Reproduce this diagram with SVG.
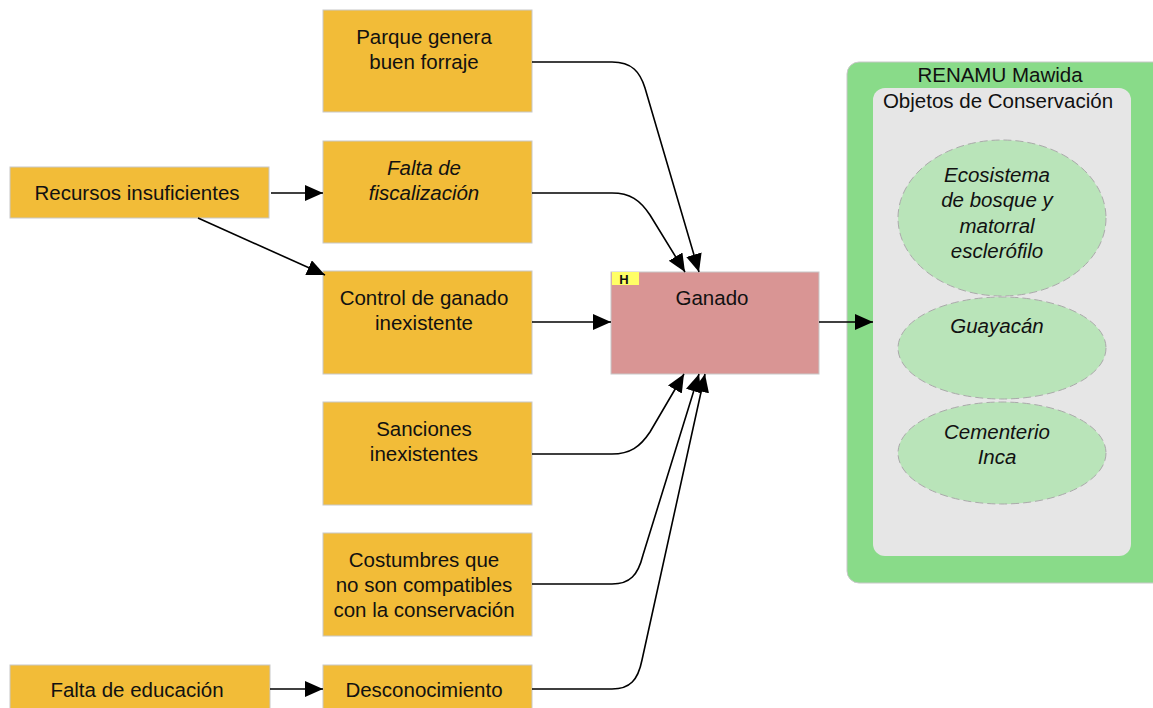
<svg xmlns="http://www.w3.org/2000/svg" width="1153" height="708" viewBox="0 0 1153 708">
  <style>
    text { font-family: "Liberation Sans", Arial, sans-serif; font-size: 20.5px; fill: #111; text-anchor: middle; }
    .it { font-style: italic; }
    .factor { fill: #F2BC38; stroke: #C8C8C8; stroke-width: 1; }
    .target { fill: #D99594; stroke: #C8C8C8; stroke-width: 1; }
    .obj { fill: #B9E4B9; stroke: #AAAAAA; stroke-width: 1; stroke-dasharray: 8 4; }
    .link { fill: none; stroke: #000; stroke-width: 1.6; marker-end: url(#arrow); }
  </style>
  <defs>
    <marker id="arrow" markerUnits="userSpaceOnUse" markerWidth="20" markerHeight="18" refX="18" refY="8" orient="auto">
      <path d="M0,0 L18,8 L0,16 z" fill="#000"/>
    </marker>
  </defs>
  <rect width="1153" height="708" fill="#fff"/>

  <!-- scope container -->
  <g id="scope">
    <rect x="847" y="62" width="320" height="521" rx="12" fill="#89DB89" stroke="#C8C8C8"/>
    <text x="1000" y="82">RENAMU Mawida</text>
    <rect x="873" y="88" width="258" height="468" rx="12" fill="#E6E6E6"/>
    <text x="998" y="108">Objetos de Conservación</text>
  </g>

  <g id="obj-ecosistema">
    <ellipse class="obj" cx="1002" cy="218" rx="104" ry="78"/>
    <text class="it" x="997" y="182">Ecosistema</text>
    <text class="it" x="997" y="207">de bosque y</text>
    <text class="it" x="997" y="233">matorral</text>
    <text class="it" x="997" y="258">esclerófilo</text>
  </g>
  <g id="obj-guayacan">
    <ellipse class="obj" cx="1002" cy="348" rx="104" ry="51"/>
    <text class="it" x="997" y="333">Guayacán</text>
  </g>
  <g id="obj-cementerio">
    <ellipse class="obj" cx="1002" cy="453" rx="104" ry="51"/>
    <text class="it" x="997" y="439">Cementerio</text>
    <text class="it" x="997" y="464">Inca</text>
  </g>

  <!-- direct threat -->
  <g id="ganado">
    <rect class="target" x="611" y="272" width="208" height="102"/>
    <rect x="612" y="272" width="27" height="13" fill="#FFFF66"/>
    <text x="624" y="284" style="font-size:13px;font-weight:bold">H</text>
    <text x="712" y="305">Ganado</text>
  </g>

  <!-- contributing factors -->
  <g id="recursos">
    <rect class="factor" x="10" y="167" width="259" height="51"/>
    <text x="137" y="200">Recursos insuficientes</text>
  </g>
  <g id="educacion">
    <rect class="factor" x="10" y="665" width="260" height="50"/>
    <text x="137" y="697">Falta de educación</text>
  </g>
  <g id="parque">
    <rect class="factor" x="323" y="10" width="209" height="102"/>
    <text x="424" y="44">Parque genera</text>
    <text x="424" y="69">buen forraje</text>
  </g>
  <g id="fiscalizacion">
    <rect class="factor" x="323" y="141" width="209" height="102"/>
    <text class="it" x="424" y="175">Falta de</text>
    <text class="it" x="424" y="200">fiscalización</text>
  </g>
  <g id="control">
    <rect class="factor" x="323" y="271" width="209" height="103"/>
    <text x="424" y="305">Control de ganado</text>
    <text x="424" y="330">inexistente</text>
  </g>
  <g id="sanciones">
    <rect class="factor" x="323" y="402" width="209" height="103"/>
    <text x="424" y="436">Sanciones</text>
    <text x="424" y="461">inexistentes</text>
  </g>
  <g id="costumbres">
    <rect class="factor" x="323" y="533" width="209" height="103"/>
    <text x="424" y="567">Costumbres que</text>
    <text x="424" y="592">no son compatibles</text>
    <text x="424" y="617">con la conservación</text>
  </g>
  <g id="desconocimiento">
    <rect class="factor" x="323" y="665" width="209" height="50"/>
    <text x="424" y="697">Desconocimiento</text>
  </g>

  <!-- connectors -->
  <g id="links">
    <path class="link" d="M271,193 H323"/>
    <path class="link" d="M198,218 L325,275"/>
    <path class="link" d="M270,689 H323"/>
    <path class="link" d="M532,62 H612 C632,62 640,72 645,88 L699,272"/>
    <path class="link" d="M532,193 H612 C630,193 640,200 650,215 L685,272"/>
    <path class="link" d="M532,322 H611"/>
    <path class="link" d="M532,454 H612 C630,454 640,447 650,432 L684,374"/>
    <path class="link" d="M532,584 H612 C630,584 638,575 643,555 L699,374"/>
    <path class="link" d="M532,689 H612 C630,689 638,680 642,660 L705,374"/>
    <path class="link" d="M819,322 H873"/>
  </g>
</svg>
